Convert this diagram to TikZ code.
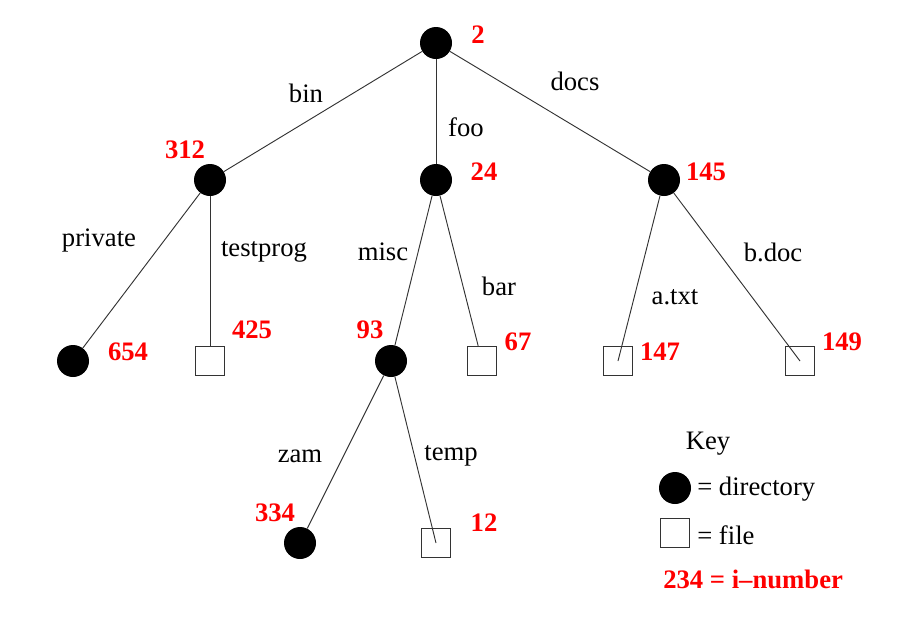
\documentclass[tikz,border=0pt]{standalone}
\usepackage{fontspec}
\setmainfont{Liberation Serif}
\usepackage{tikz}
\tikzset{
  dir/.style={circle, fill=black, inner sep=0pt, minimum size=24},
  file/.style={rectangle, draw=black!80, line width=0.8pt, inner sep=0pt, minimum size=22},
  inum/.style={text=red, font=\fontsize{20}{24}\selectfont\bfseries, inner sep=0pt},
  lbl/.style={font=\fontsize{20}{24}\selectfont, inner sep=0pt},
  edge/.style={draw=black!80, line width=0.7pt}
}
\begin{document}
\begin{tikzpicture}[x=0.75pt, y=-0.75pt]
				\useasboundingbox (0, 0) rectangle (906, 622);
				% Directories and files:
				\node[dir](root) at (436, 43){};
				\node[dir](bin) at (210, 180){};
				\node[dir](foo) at (436, 180){};
				\node[dir](docs) at (664, 180){};
				\node[dir](private) at (73, 361){};
				\node[file](testprog) at (210, 361){};
				\node[dir](misc) at (391, 361){};
				\node[file](bar) at (482, 361){};
				\node[file](atxt) at (618, 361){};
				\node[file](bdoc) at (800, 361){};
				\node[dir](zam) at (300, 543){};
				\node[file](temp) at (436, 543){};
				% Links:
				\draw[edge] (root) -- (bin);
				\draw[edge] (root) -- (foo);
				\draw[edge] (root) -- (docs);
				\draw[edge] (bin) -- (private);
				\draw[edge] (bin) -- (testprog);
				\draw[edge] (foo) -- (misc);
				\draw[edge] (foo) -- (bar);
				\draw[edge] (docs) -- (atxt.center);
				\draw[edge] (docs) -- (bdoc.center);
				\draw[edge] (misc) -- (zam);
				\draw[edge] (misc) -- (temp.center);
				% Names:
				\node[lbl](Lbin) at (306, 93){bin};
				\node[lbl](Ldocs) at (575, 81){docs};
				\node[lbl](Lfoo) at (466, 127){foo};
				\node[lbl](Lprivate) at (99, 241){private};
				\node[lbl](Ltestprog) at (264, 252){testprog};
				\node[lbl](Lmisc) at (383, 252){misc};
				\node[lbl](Lbar) at (499, 286){bar};
				\node[lbl](Latxt) at (675, 297){a.txt};
				\node[lbl](Lbdoc) at (773, 252){b.doc};
				\node[lbl](Lzam) at (300, 456){zam};
				\node[lbl](Ltemp) at (451, 456){temp};
				% i-numbers:
				\node[inum](Nroot) at (478, 35){2};
				\node[inum](Nbin) at (185, 150){312};
				\node[inum](Nfoo) at (484, 172){24};
				\node[inum](Ndocs) at (706, 172){145};
				\node[inum](Nprivate) at (128, 352){654};
				\node[inum](Ntestprog) at (252, 330){425};
				\node[inum](Nmisc) at (370, 330){93};
				\node[inum](Nbar) at (518, 342){67};
				\node[inum](Natxt) at (660, 352){147};
				\node[inum](Nbdoc) at (842, 342){149};
				\node[inum](Nzam) at (275, 513){334};
				\node[inum](Ntemp) at (484, 523){12};
				% Key:
				\node[lbl](key) at (708, 444){Key};
				\node[dir](keydir) at (675, 488){};
				\node[lbl, anchor=west](keydirtxt) at (697, 489){= directory};
				\node[file](keyfile) at (675, 533){};
				\node[lbl, anchor=west](keyfiletxt) at (697, 535){= file};
				\node[inum, anchor=west](keynum) at (663, 579){234 = i--number};
			\end{tikzpicture}
\end{document}
